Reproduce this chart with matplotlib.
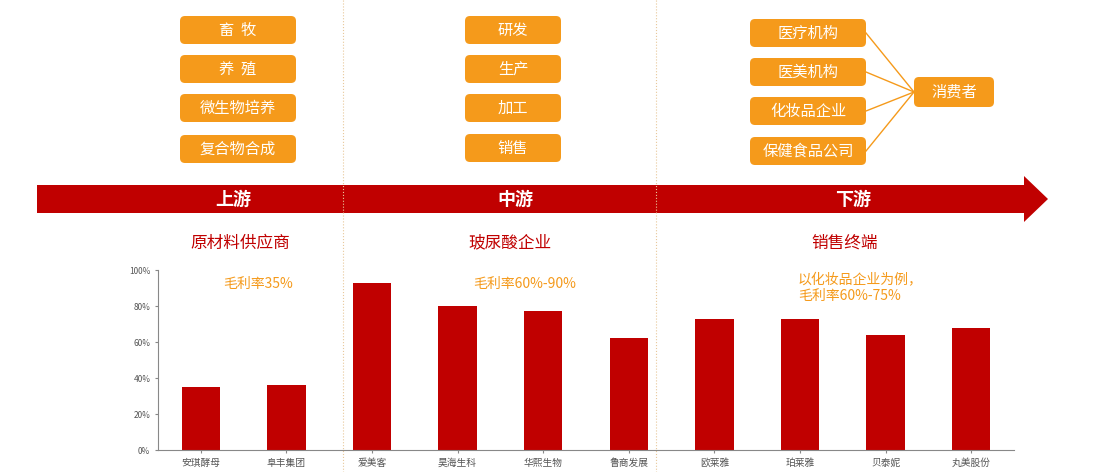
import matplotlib.pyplot as plt
from matplotlib.patches import FancyBboxPatch, FancyArrow

plt.rcParams['font.family'] = ['Noto Sans CJK SC', 'DejaVu Sans']

companies = ['安琪酵母', '阜丰集团', '爱美客', '昊海生科', '华熙生物', '鲁商发展', '欧莱雅', '珀莱雅', '贝泰妮', '丸美股份']
margins = [35, 36, 93, 80, 77, 62, 73, 73, 64, 68]
y_ticks = [0, 20, 40, 60, 80, 100]

up_boxes = ['畜  牧', '养  殖', '微生物培养', '复合物合成']
mid_boxes = ['研发', '生产', '加工', '销售']
down_boxes = ['医疗机构', '医美机构', '化妆品企业', '保健食品公司']
stages = ['上游', '中游', '下游']
stage_titles = ['原材料供应商', '玻尿酸企业', '销售终端']
notes = ['毛利率35%', '毛利率60%-90%', '以化妆品企业为例，\n毛利率60%-75%']

W, H = 1108, 472
RED = '#c00000'
ORANGE = '#f59a1b'

fig = plt.figure(figsize=(W / 100, H / 100), dpi=100)
ov = fig.add_axes([0, 0, 1, 1])
ov.set_xlim(0, W)
ov.set_ylim(H, 0)
ov.axis('off')

# chart
ax = fig.add_axes([158 / W, 1 - 450 / H, 856 / W, 180 / H])
ax.bar(range(len(companies)), margins, width=0.45, color=RED)
ax.set_xlim(-0.5, len(companies) - 0.5)
ax.set_ylim(0, 100)
ax.set_yticks(y_ticks)
ax.set_yticklabels([f'{t}%' for t in y_ticks], fontsize=6, color='#555555')
ax.set_xticks(range(len(companies)))
ax.set_xticklabels(companies, fontsize=7, color='#555555')
for s in ['top', 'right']:
    ax.spines[s].set_visible(False)
ax.spines['left'].set_color('#888888')
ax.spines['bottom'].set_color('#888888')
ax.tick_params(length=2, color='#888888')
ax.patch.set_alpha(0)

# dividers
for x in [343, 656]:
    ov.plot([x, x], [0, H], color='#e8c89a', lw=0.8, ls=':')

# arrow band
ov.add_patch(FancyArrow(37, 199, 1011, 0, width=28, head_width=46, head_length=24,
                        length_includes_head=True, color=RED, lw=0))
for x, s in zip([233, 515, 853], stages):
    ov.text(x, 199, s, color='white', fontsize=13, fontweight='bold', ha='center', va='center')
for x, s in zip([240, 510, 845], stage_titles):
    ov.text(x, 243, s, color=RED, fontsize=12, ha='center', va='center')

ov.text(258, 284, notes[0], color=ORANGE, fontsize=10, ha='center', va='center')
ov.text(525, 284, notes[1], color=ORANGE, fontsize=10, ha='center', va='center')
ov.text(798, 288, notes[2], color=ORANGE, fontsize=10, ha='left', va='center', linespacing=1.2)

def box(cx, cy, w, h, label):
    ov.add_patch(FancyBboxPatch((cx - w / 2, cy - h / 2), w, h,
                                boxstyle='round,pad=0,rounding_size=5', fc=ORANGE, ec='none'))
    ov.text(cx, cy, label, color='white', fontsize=11, ha='center', va='center')

for y, s in zip([30, 69, 108, 149], up_boxes):
    box(238, y, 116, 28, s)
for y, s in zip([30, 69, 108, 148], mid_boxes):
    box(513, y, 96, 28, s)
down_y = [33, 72, 111, 151]
for y, s in zip(down_y, down_boxes):
    box(808, y, 116, 28, s)
box(954, 92, 80, 30, '消费者')
for y in down_y:
    ov.plot([866, 914], [y, 92], color=ORANGE, lw=1)

fig.savefig('out.png', dpi=100)
